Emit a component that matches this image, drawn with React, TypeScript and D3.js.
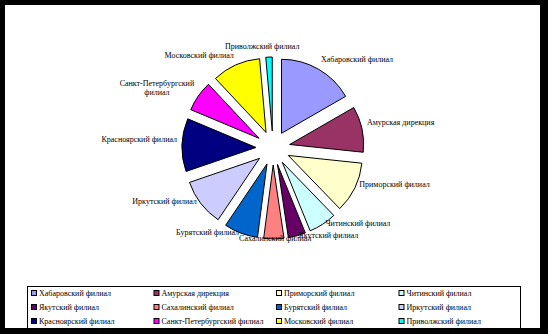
import React from 'react';
import * as d3 from 'd3';

const categories = [
  'Хабаровский филиал',
  'Амурская дирекция',
  'Приморский филиал',
  'Читинский филиал',
  'Якутский филиал',
  'Сахалинский филиал',
  'Бурятский филиал',
  'Иркутский филиал',
  'Красноярский филиал',
  'Санкт-Петербургский филиал',
  'Московский филиал',
  'Приволжский филиал',
];
const values = [16.7, 10.0, 11.1, 6.1, 3.8, 4.4, 7.4, 10.3, 11.6, 6.7, 10.6, 1.4];
const colors = [
  '#9999FF', '#993366', '#FFFFCC', '#CCFFFF', '#660066', '#FF8080',
  '#0066CC', '#CCCCFF', '#000080', '#FF00FF', '#FFFF00', '#00FFFF',
];
const labelLines = [
  ['Хабаровский филиал'],
  ['Амурская дирекция'],
  ['Приморский филиал'],
  ['Читинский филиал'],
  ['Якутский филиал'],
  ['Сахалинский филиал'],
  ['Бурятский филиал'],
  ['Иркутский филиал'],
  ['Красноярский филиал'],
  ['Санкт-Петербургский', 'филиал'],
  ['Московский филиал'],
  ['Приволжский филиал'],
];

const W = 548;
const H = 334;
const FONT = "'Liberation Serif', 'Times New Roman', serif";
const FS = 8;
const LH = 9.5;

function measure(text: string): number {
  const c = document.createElement('canvas').getContext('2d');
  if (!c) return text.length * 4;
  c.font = `${FS}px ${FONT}`;
  return c.measureText(text).width;
}

export default function App() {
  const cx = 273;
  const cy = 148;
  const r = 74;
  const explode = 17;
  const labelR = r + 5;

  const pie = d3.pie<number>().sort(null).value((d) => d);
  const arcs = pie(values);
  const arcGen = d3.arc<d3.PieArcDatum<number>>().innerRadius(0).outerRadius(r);

  const legendCols = 4;
  const legendX = 27;
  const legendY = 286;
  const legendW = 493;
  const legendH = 42;
  const colW = 122.5;
  const rowH = 14;

  return (
    <svg
      width={W}
      height={H}
      style={{ position: 'absolute', left: 0, top: 0, display: 'block' }}
      fontFamily={FONT}
      fontSize={FS}
    >
      <rect x={0} y={0} width={W} height={H} fill="#000" />
      <rect x={5} y={5} width={535} height={323} fill="#fff" />
      {arcs.map((a, i) => {
        const mid = (a.startAngle + a.endAngle) / 2;
        const sx = Math.sin(mid);
        const sy = -Math.cos(mid);
        const ox = cx + explode * sx;
        const oy = cy + explode * sy;
        return (
          <path
            key={'s' + i}
            d={arcGen(a) || ''}
            transform={`translate(${ox},${oy})`}
            fill={colors[i]}
            stroke="#000"
            strokeWidth={1}
            strokeLinejoin="miter"
          />
        );
      })}
      {arcs.map((a, i) => {
        const mid = (a.startAngle + a.endAngle) / 2;
        const sx = Math.sin(mid);
        const sy = -Math.cos(mid);
        const px = cx + (explode + labelR) * sx;
        const py = cy + (explode + labelR) * sy;
        const lines = labelLines[i];
        const w = Math.max(...lines.map(measure));
        const h = lines.length * LH;
        const k = Math.max(-1, Math.min(1, sx * 4));
        const left = px - w / 2 + (k * w) / 2;
        const centerY = py - 5.5;
        const top = centerY - h / 2;
        return (
          <text key={'l' + i} textAnchor="middle" fill="#000">
            {lines.map((ln, j) => (
              <tspan key={j} x={left + w / 2} y={top + j * LH + 7.5}>
                {ln}
              </tspan>
            ))}
          </text>
        );
      })}
      <rect
        x={legendX + 0.5}
        y={legendY + 0.5}
        width={legendW}
        height={legendH}
        fill="#fff"
        stroke="#000"
        strokeWidth={1}
      />
      {categories.map((c, i) => {
        const col = i % legendCols;
        const row = Math.floor(i / legendCols);
        const x = legendX + 4 + col * colW;
        const y = legendY + 7 + row * rowH;
        return (
          <g key={'g' + i}>
            <rect x={x + 0.5} y={y - 2.5} width={5} height={5} fill={colors[i]} stroke="#000" strokeWidth={1} />
            <text x={x + 8} y={y + 3} fill="#000">
              {c}
            </text>
          </g>
        );
      })}
    </svg>
  );
}
